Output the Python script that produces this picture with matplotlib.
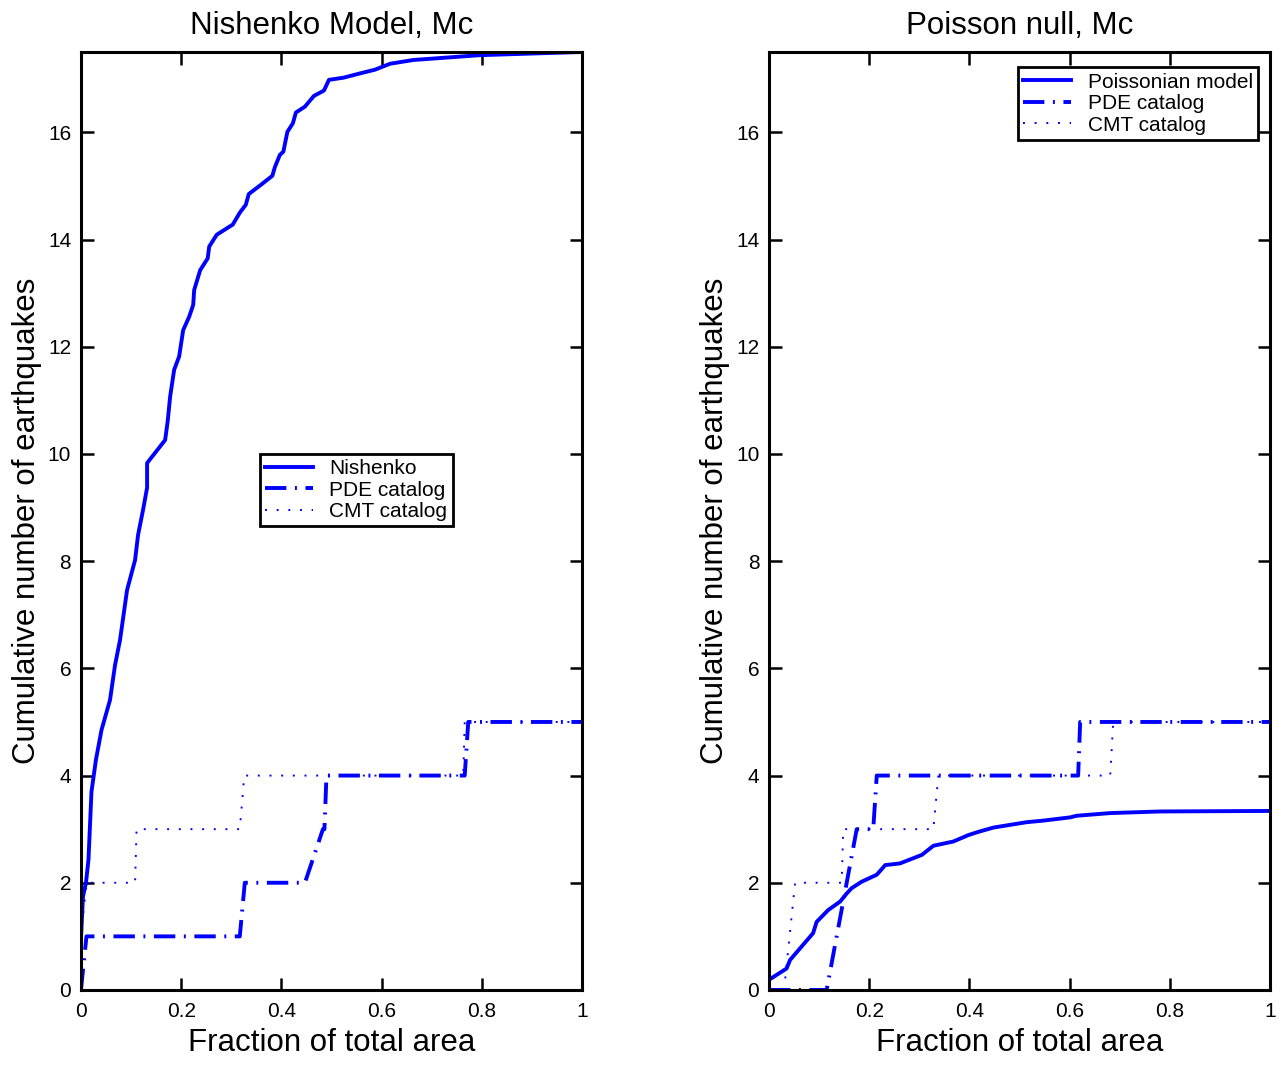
import numpy as np
import matplotlib.pyplot as plt

plt.rcParams['font.family'] = ['Liberation Sans', 'DejaVu Sans']

# Nishenko model (left panel)
nish_x = [0.0, 0.004, 0.010, 0.015, 0.021, 0.030, 0.041, 0.058, 0.068, 0.078, 0.092,
          0.108, 0.114, 0.124, 0.132, 0.132, 0.168, 0.173, 0.178, 0.186, 0.196, 0.204,
          0.216, 0.224, 0.226, 0.238, 0.253, 0.256, 0.271, 0.303, 0.317, 0.329, 0.335,
          0.359, 0.382, 0.387, 0.397, 0.404, 0.412, 0.423, 0.429, 0.447, 0.465, 0.485,
          0.495, 0.524, 0.557, 0.587, 0.617, 0.663, 0.796, 1.0]
nish_y = [0.95, 1.74, 2.0, 2.43, 3.7, 4.3, 4.85, 5.41, 6.06, 6.53, 7.46,
          8.02, 8.49, 8.96, 9.37, 9.83, 10.26, 10.6, 11.07, 11.57, 11.82, 12.31,
          12.56, 12.78, 13.06, 13.43, 13.65, 13.87, 14.09, 14.28, 14.5, 14.65, 14.85,
          15.02, 15.19, 15.35, 15.58, 15.64, 16.01, 16.17, 16.37, 16.48, 16.68, 16.78,
          16.98, 17.02, 17.1, 17.17, 17.28, 17.35, 17.44, 17.5]

pde_left_x = [0.0, 0.011, 0.317, 0.327, 0.447, 0.483, 0.486, 0.490, 0.766, 0.773, 1.0]
pde_left_y = [0, 1, 1, 2, 2, 3, 3, 4, 4, 5, 5]

cmt_left_x = [0.0, 0.011, 0.108, 0.111, 0.317, 0.326, 0.763, 0.766, 1.0]
cmt_left_y = [1, 2, 2, 3, 3, 4, 4, 5, 5]

# Poisson null (right panel)
pois_x = [0.005, 0.035, 0.042, 0.088, 0.095, 0.118, 0.142, 0.155, 0.165, 0.185,
          0.215, 0.232, 0.261, 0.305, 0.328, 0.368, 0.398, 0.418, 0.448, 0.514,
          0.548, 0.601, 0.614, 0.681, 0.78, 1.0]
pois_y = [0.22, 0.40, 0.56, 1.06, 1.27, 1.49, 1.65, 1.80, 1.90, 2.02,
          2.15, 2.33, 2.36, 2.52, 2.69, 2.77, 2.89, 2.95, 3.03, 3.13,
          3.16, 3.22, 3.25, 3.30, 3.33, 3.34]

pde_right_x = [0.0, 0.115, 0.175, 0.208, 0.215, 0.617, 0.621, 1.0]
pde_right_y = [0, 0, 3, 3, 4, 4, 5, 5]

cmt_right_x = [0.03, 0.052, 0.145, 0.148, 0.328, 0.338, 0.681, 0.687, 1.0]
cmt_right_y = [0, 2, 2, 3, 3, 4, 4, 5, 5]

blue = '#0000ff'
lw = 2.8
dashdot = (0, (5.5, 2.2, 0.5, 2.2))
dotted = (0, (1, 5))

fig = plt.figure(figsize=(12.83, 10.67), dpi=100)
ax1 = fig.add_axes([0.0631, 0.0722, 0.3905, 0.8791])
ax2 = fig.add_axes([0.5994, 0.0722, 0.3905, 0.8791])


def style(ax, title):
    ax.set_xlim(0, 1)
    ax.set_ylim(0, 17.5)
    ax.set_xticks([0, 0.2, 0.4, 0.6, 0.8, 1])
    ax.set_xticklabels(['0', '0.2', '0.4', '0.6', '0.8', '1'])
    ax.set_yticks(range(0, 17, 2))
    ax.tick_params(direction='in', top=True, right=True, length=9, width=1.8,
                   labelsize=15)
    ax.tick_params(axis='x', pad=9)
    ax.tick_params(axis='y', pad=7)
    for s in ax.spines.values():
        s.set_linewidth(2.2)
    ax.set_title(title, fontsize=22.5, pad=13)
    ax.set_xlabel('Fraction of total area', fontsize=22.5, labelpad=5)
    ax.set_ylabel('Cumulative number of earthquakes', fontsize=22.5, labelpad=4)


def add_legend(ax, anchor):
    leg = ax.legend(loc='center', bbox_to_anchor=anchor, fontsize=15, handlelength=2.3,
                    fancybox=False, edgecolor='black', framealpha=1, borderpad=0.25,
                    labelspacing=0.12, handletextpad=0.8, borderaxespad=0)
    leg.get_frame().set_linewidth(2)


ax1.plot(nish_x, nish_y, color=blue, lw=lw, ls='-', label='Nishenko')
ax1.plot(pde_left_x, pde_left_y, color=blue, lw=lw, ls=dashdot, label='PDE catalog')
ax1.plot(cmt_left_x, cmt_left_y, color=blue, lw=1.4, ls=dotted, label='CMT catalog')
style(ax1, 'Nishenko Model, Mc')
add_legend(ax1, (0.549, 0.533))

ax2.plot(pois_x, pois_y, color=blue, lw=lw, ls='-', label='Poissonian model')
ax2.plot(pde_right_x, pde_right_y, color=blue, lw=lw, ls=dashdot, label='PDE catalog')
ax2.plot(cmt_right_x, cmt_right_y, color=blue, lw=1.4, ls=dotted, label='CMT catalog')
style(ax2, 'Poisson null, Mc')
add_legend(ax2, (0.736, 0.945))

fig.savefig('out.png', dpi=100)
